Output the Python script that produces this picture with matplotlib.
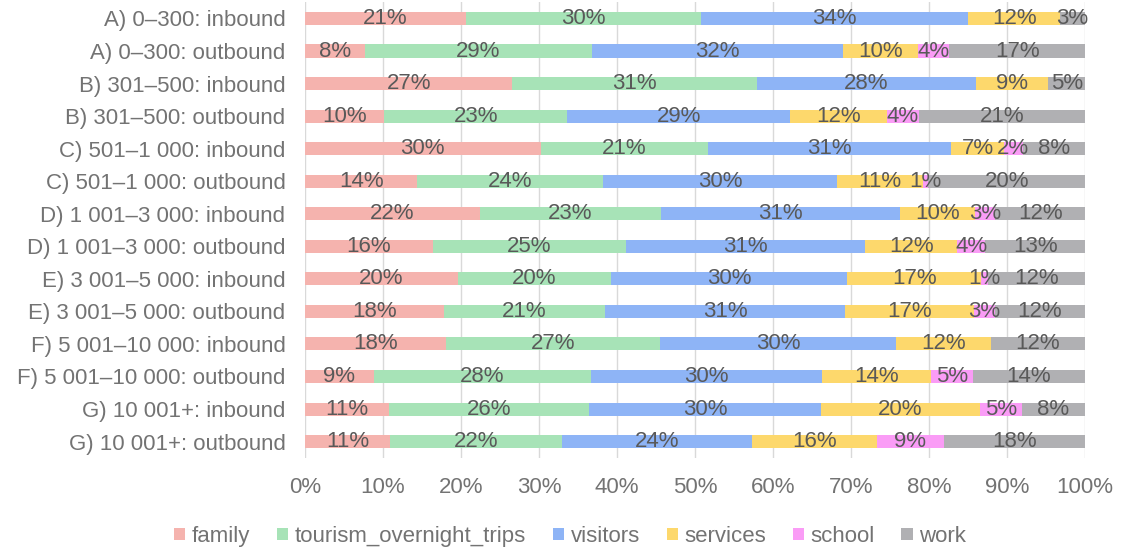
import numpy as np
import matplotlib
matplotlib.use('Agg')
from matplotlib import pyplot as plt

plt.rcParams['font.family'] = ['Liberation Sans', 'DejaVu Sans']

categories = ['A) 0–300: inbound', 'A) 0–300: outbound',
              'B) 301–500: inbound', 'B) 301–500: outbound',
              'C) 501–1 000: inbound', 'C) 501–1 000: outbound',
              'D) 1 001–3 000: inbound', 'D) 1 001–3 000: outbound',
              'E) 3 001–5 000: inbound', 'E) 3 001–5 000: outbound',
              'F) 5 001–10 000: inbound', 'F) 5 001–10 000: outbound',
              'G) 10 001+: inbound', 'G) 10 001+: outbound']

family = [20.6, 7.7, 26.6, 10.2, 30.2, 14.4, 22.4, 16.4, 19.6, 17.8, 18.1, 8.8, 10.8, 10.9]
tourism = [30.2, 29.1, 31.3, 23.4, 21.4, 23.8, 23.3, 24.8, 19.6, 20.7, 27.4, 27.9, 25.6, 22.1]
visitors = [34.2, 32.2, 28.1, 28.6, 31.2, 30.0, 30.6, 30.6, 30.3, 30.7, 30.3, 29.6, 29.8, 24.3]
services = [11.8, 9.6, 9.3, 12.4, 6.8, 11.0, 9.6, 11.8, 17.2, 16.6, 12.1, 13.9, 20.3, 16.0]
school = [0.0, 4.0, 0.0, 4.1, 2.4, 0.7, 2.6, 3.6, 0.9, 2.6, 0.0, 5.4, 5.4, 8.6]
work = [3.2, 17.4, 4.7, 21.3, 8.0, 20.1, 11.5, 12.8, 12.4, 11.6, 12.1, 14.4, 8.1, 18.1]

series_names = ['family', 'tourism_overnight_trips', 'visitors', 'services', 'school', 'work']
colors = ['#F5B3AE', '#A7E3B7', '#8EB4F6', '#FDD86C', '#FA9CF6', '#B0B0B3']

data = np.array([family, tourism, visitors, services, school, work])
data = data / data.sum(axis=0)

fig = plt.figure(figsize=(11.21, 5.47), dpi=100)
ax = fig.add_axes([0.272, 0.163, 0.696, 0.833])

y = np.arange(len(categories))
left = np.zeros(len(categories))
for vals, name, col in zip(data, series_names, colors):
    bars = ax.barh(y, vals, left=left, height=0.4, color=col, label=name, zorder=2)
    for b, v in zip(bars, vals):
        if v > 0.001:
            ax.text(b.get_x() + b.get_width() / 2, b.get_y() + b.get_height() / 2,
                    '%.0f%%' % (v * 100), ha='center', va='center',
                    fontsize=16, color='#595959', zorder=3)
    left += vals

ax.set_xlim(0, 1)
ax.set_ylim(len(categories) - 0.5, -0.5)
ax.set_yticks(y)
ax.set_yticklabels(categories, fontsize=16, color='#737373')
ax.set_xticks(np.arange(0, 1.01, 0.1))
ax.set_xticklabels(['%d%%' % v for v in range(0, 101, 10)], fontsize=16, color='#737373')
ax.tick_params(axis='both', length=0)
ax.tick_params(axis='x', pad=14)
ax.tick_params(axis='y', pad=14)
ax.grid(axis='x', color='#D9D9D9', linewidth=1, zorder=0)
for s in ax.spines.values():
    s.set_visible(False)

ax.legend(loc='lower center', bbox_to_anchor=(0.34, -0.215), ncol=6, frameon=False,
          fontsize=16, handlelength=0.5, handleheight=0.5, handletextpad=0.3,
          columnspacing=1.2, labelcolor='#737373', borderaxespad=0)

fig.savefig('out.png', dpi=100)
